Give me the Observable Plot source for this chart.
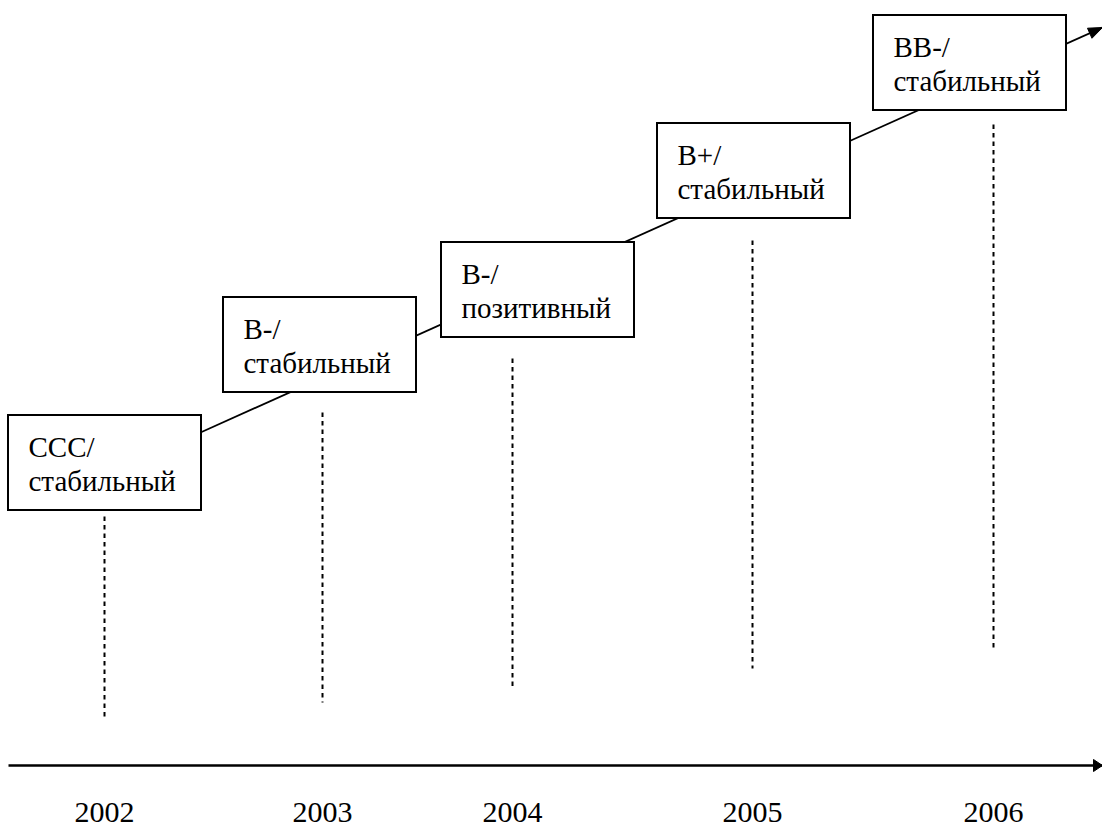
<!DOCTYPE html>
<html>
<head>
<meta charset="utf-8">
<script src="https://cdn.jsdelivr.net/npm/d3@7"></script>
<script src="https://cdn.jsdelivr.net/npm/@observablehq/plot@0.6"></script>
<style>
  html, body { margin: 0; padding: 0; background: #fff; }
  #chart svg { display: block; }
  #chart svg text, #chart svg tspan { font-family: "Liberation Serif", "Times New Roman", serif !important; }
</style>
</head>
<body>
<div id="chart"></div>
<script>
// ---- data ----
const years = ["2002", "2003", "2004", "2005", "2006"];
const ratings = ["CCC", "B-", "B-", "B+", "BB-"];
const outlooks = ["стабильный", "стабильный", "позитивный", "стабильный", "стабильный"];

// ---- layout (pixel positions of the diagram) ----
const yearX = [104, 322, 512, 752, 993];
const boxLeft = [8, 223, 441, 657, 873];
const boxTop = [415, 297, 242, 123, 15];
const dashTop = [516, 412, 358, 240, 124];
const dashBottom = [718, 702, 688, 668, 648];
const boxW = 193, boxH = 95;
const trend = {x1: 200, y1: 432, x2: 1102, y2: 27};
const axisLine = {x1: 8, x2: 1102, y: 765};
const yearBaseline = 821;

const W = 1102, H = 827;
const font = "Liberation Serif, Times New Roman, serif";

const items = years.map((year, i) => ({
  year,
  label: ratings[i] + "/\n" + outlooks[i],
  yx: yearX[i],
  bx1: boxLeft[i], bx2: boxLeft[i] + boxW,
  by1: boxTop[i], by2: boxTop[i] + boxH,
  dy1: dashTop[i], dy2: dashBottom[i]
}));

// arrowhead triangle helper
function arrowHead(tx, ty, fromX, fromY, len, half) {
  const a = Math.atan2(ty - fromY, tx - fromX);
  const bx = tx - len * Math.cos(a), by = ty - len * Math.sin(a);
  const px = -Math.sin(a) * half, py = Math.cos(a) * half;
  return [
    {x: tx, y: ty},
    {x: bx + px, y: by + py},
    {x: bx - px, y: by - py},
    {x: tx, y: ty}
  ];
}

const trendHead = arrowHead(trend.x2, trend.y2, trend.x1, trend.y1, 14, 5.5);
const axisHead = arrowHead(axisLine.x2, axisLine.y, axisLine.x1, axisLine.y, 9, 6);

const chart = Plot.plot({
  width: W,
  height: H,
  margin: 0,
  x: {type: "identity", axis: null},
  y: {type: "identity", axis: null},
  style: {background: "#fff", fontFamily: font},
  marks: [
    // dashed verticals
    Plot.link(items, {x1: "yx", x2: "yx", y1: "dy1", y2: "dy2",
      stroke: "#000", strokeWidth: 2, strokeDasharray: "4.5,4"}),
    // trend line
    Plot.link([trend], {x1: "x1", y1: "y1", x2: "x2", y2: "y2",
      stroke: "#000", strokeWidth: 1.8}),
    Plot.line(trendHead, {x: "x", y: "y", fill: "#000", stroke: "#000", strokeWidth: 1}),
    // boxes
    Plot.rect(items, {x1: "bx1", x2: "bx2", y1: "by1", y2: "by2",
      fill: "#fff", stroke: "#000", strokeWidth: 2}),
    Plot.text(items, {x: d => d.bx1 + 20, y: d => d.by1 + 37 - 0.71 * 29,
      text: "label", textAnchor: "start", lineAnchor: "top", lineHeight: 1.2,
      fontSize: 29, fill: "#000", fontFamily: font}),
    // horizontal axis with arrow
    Plot.link([axisLine], {x1: "x1", x2: "x2", y1: "y", y2: "y",
      stroke: "#000", strokeWidth: 2.5}),
    Plot.line(axisHead, {x: "x", y: "y", fill: "#000", stroke: "#000", strokeWidth: 1}),
    // year labels
    Plot.text(items, {x: "yx", y: yearBaseline - 0.71 * 30, text: "year",
      textAnchor: "middle", lineAnchor: "top", fontSize: 30, fill: "#000", fontFamily: font})
  ]
});

document.getElementById("chart").appendChild(chart);
</script>
</body>
</html>
